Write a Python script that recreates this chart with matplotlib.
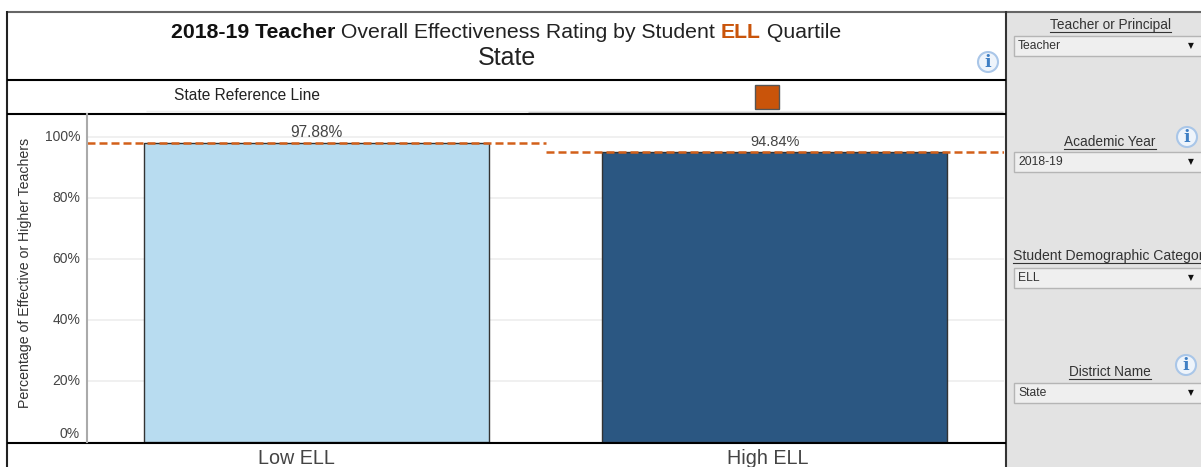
import matplotlib
matplotlib.use("Agg")
import matplotlib.pyplot as plt
from matplotlib.patches import Circle, Rectangle
from matplotlib.transforms import ScaledTranslation

plt.rcParams["font.family"] = ["Liberation Sans", "DejaVu Sans"]

categories = ["Low ELL", "High ELL"]
rates = [97.88, 94.84]
rate_labels = ["97.88%", "94.84%"]
bar_colors = ["#b8dcf0", "#2b5782"]
yticks = [0, 20, 40, 60, 80, 100]
ytick_labels = ["0%", "20%", "40%", "60%", "80%", "100%"]
title_parts = [
    ("2018-19 Teacher", "bold", "#111111"),
    (" Overall Effectiveness Rating by Student ", "normal", "#222222"),
    ("ELL", "bold", "#c9540a"),
    (" Quartile", "normal", "#222222"),
]
filters = [
    ("Teacher or Principal", "Teacher"),
    ("Academic Year", "2018-19"),
    ("Student Demographic Category", "ELL"),
    ("District Name", "State"),
]
filter_label_x = [1110, 1110, 1013, 1110]
filter_label_y = [25, 142, 256, 372]
filter_box_y = [36, 152, 268, 383]

ORANGE = "#d2601a"
W, H = 1201, 467

fig = plt.figure(figsize=(W / 100, H / 100), dpi=100, facecolor="white")

# page furniture is laid out in pixels on a full-figure axes
bg = fig.add_axes([0, 0, 1, 1], zorder=0)
bg.set_xlim(0, W)
bg.set_ylim(H, 0)
bg.axis("off")


def hline(x0, x1, y, color="black", lw=1.5):
    bg.plot([x0, x1], [y, y], color=color, lw=lw, solid_capstyle="butt")


def vline(x, y0, y1, color="black", lw=1.5):
    bg.plot([x, x], [y0, y1], color=color, lw=lw, solid_capstyle="butt")


def info_icon(x, y):
    bg.add_patch(Circle((x, y), 10, fc="#eef4fb", ec="#a9c6e8", lw=1.5, zorder=5))
    bg.text(x, y + 0.5, "i", ha="center", va="center", fontsize=12.5, fontweight="bold",
            color="#3f7fc4", family="DejaVu Serif", zorder=6)


# sidebar
bg.add_patch(Rectangle((1006, 12), W - 1006, H - 12, fc="#e3e3e3", ec="none"))
hline(7, W, 11.5, color="#666666", lw=1.5)
vline(7, 11, H, color="#222222", lw=1.5)
vline(1006, 11, H, color="#333333", lw=1.5)
hline(7, 1006, 80, lw=1.5)
hline(146, 1003, 111, color="#eeeeee", lw=1.0)
hline(528, 1003, 112, color="#cccccc", lw=1.0)
hline(7, 1006, 114, lw=1.5)
hline(7, 1006, 442.5, lw=1.5)

# title block, pieces set one after another so the weights can change mid-line
renderer = fig.canvas.get_renderer()
cursor = 171
for part, weight, color in title_parts:
    t = bg.text(cursor, 32, part.replace(" ", "\u00a0"), fontsize=15.35, fontweight=weight, color=color,
                ha="left", va="center")
    cursor = t.get_window_extent(renderer).x1
bg.text(506.5, 58, "State", fontsize=18, color="#222222", ha="center", va="center")
info_icon(988, 62)

# legend row
bg.text(174, 96, "State Reference Line", fontsize=11.2, color="#222222", ha="left", va="center")
bg.add_patch(Rectangle((755, 85), 24, 24, fc="#c9540a", ec="#555555", lw=1))

# filters
for (label, value), lx, ly, by in zip(filters, filter_label_x, filter_label_y, filter_box_y):
    ha = "left" if lx == 1013 else "center"
    # the long label runs off the sidebar in the original
    size = 10.1 if lx == 1013 else 9.8
    t = bg.text(lx, ly, label, fontsize=size, color="#333333", ha=ha, va="center", clip_on=True)
    box = t.get_window_extent(renderer)
    bg.plot([box.x0, min(box.x1, W)], [ly + 6.5, ly + 6.5], color="#333333", lw=0.8)
    bg.add_patch(Rectangle((1013.5, by), 195, 20, fc="#efefef", ec="#b5b5b5", lw=1.0))
    bg.text(1018, by + 10, value, fontsize=8.7, color="#333333", ha="left", va="center")
    bg.text(1191, by + 10, "\u25BC", fontsize=5.5, color="#111111", ha="center", va="center",
            family="DejaVu Sans")
info_icon(1187, 137)
info_icon(1186, 365)

# chart
ax = fig.add_axes([87 / W, 1 - 441.5 / H, 917 / W, 327.5 / H], zorder=2)
ax.patch.set_alpha(0)
ax.set_xlim(-0.5, 1.5)
ax.set_ylim(0, 107.38)
ax.set_axisbelow(True)
ax.grid(axis="y", color="#eeeeee", lw=1.2)

positions = range(len(categories))
ax.bar(positions, rates, width=0.7525, color=bar_colors, edgecolor="#333333", lw=1)
label_sizes = [11.2, 10.5]
for i, (rate, label) in enumerate(zip(rates, rate_labels)):
    ax.plot([i - 0.5, i + 0.5], [rate, rate], color=ORANGE, lw=1.8, ls=(0, (3.2, 1.6)))
    ax.text(i, rate + 1.1, label, ha="center", va="bottom", fontsize=label_sizes[i], color="#444444")

ax.set_yticks(yticks)
ax.set_yticklabels(ytick_labels, fontsize=10, color="#444444")
ax.set_xticks(list(positions))
ax.set_xticklabels(categories, fontsize=14.2, color="#444444")
ax.tick_params(axis="y", length=0, pad=5)
ax.tick_params(axis="x", length=0, pad=5.5)

# the 0% label sits above its tick and the category labels are left of the bar centres
for tick_label, shift in zip(ax.get_yticklabels(), [0.095, 0.015, 0.015, 0.015, 0.015, 0.015]):
    tick_label.set_transform(tick_label.get_transform() + ScaledTranslation(0, shift, fig.dpi_scale_trans))
for tick_label, shift in zip(ax.get_xticklabels(), [-0.2, -0.07]):
    tick_label.set_transform(tick_label.get_transform() + ScaledTranslation(shift, 0, fig.dpi_scale_trans))

for side in ["top", "right", "bottom"]:
    ax.spines[side].set_visible(False)
ax.spines["left"].set_color("#aaaaaa")
ax.spines["left"].set_linewidth(1.5)

fig.text(25 / W, 1 - 273 / H, "Percentage of Effective or Higher Teachers", rotation=90,
         ha="center", va="center", fontsize=10.2, color="#333333")

fig.savefig("out.png", dpi=100)
